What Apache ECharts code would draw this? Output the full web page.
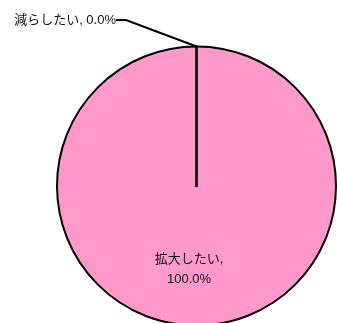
<!DOCTYPE html>
<html>
<head>
<meta charset="utf-8">
<script src="https://cdn.jsdelivr.net/npm/echarts@6/dist/echarts.min.js"></script>
<style>
  html, body { margin: 0; padding: 0; background: #fff; }
  #main { width: 337px; height: 323px; }
</style>
</head>
<body>
<div id="main"></div>
<script>
  // 回答の区分と割合（0%の区分は最後に置いて境界線が上に描かれるようにする）
  var categories = ['拡大したい', '減らしたい'];
  var values = [100.0, 0.0];
  var colors = ['#ff99cc', '#ff99cc'];

  var pieData = categories.map(function (name, i) {
    return {
      name: name,
      value: values[i],
      itemStyle: { color: colors[i], borderWidth: values[i] === 0 ? 2.6 : 2 }
    };
  });

  var chart = echarts.init(document.getElementById('main'));
  chart.setOption({
    animation: false,
    series: [{
      type: 'pie',
      center: [196.5, 186],
      radius: [0, 139.5],
      startAngle: 90,
      clockwise: true,
      avoidLabelOverlap: false,
      itemStyle: {
        borderColor: '#000',
        borderWidth: 2
      },
      label: {
        fontFamily: '"Liberation Sans", "Noto Sans CJK JP", sans-serif',
        fontSize: 13,
        color: '#111',
        lineHeight: 20,
        formatter: function (p) {
          return p.value === 0
            ? p.name + ', ' + p.value.toFixed(1) + '%'
            : p.name + ',\n' + p.value.toFixed(1) + '%';
        }
      },
      labelLine: {
        show: true,
        length: 20,
        length2: 10,
        lineStyle: { color: '#000', width: 2 }
      },
      labelLayout: function (params) {
        if (params.dataIndex === 1) {
          return { x: 116, y: 20, align: 'right', verticalAlign: 'middle' };
        }
        return { x: 189, y: 269, align: 'center', verticalAlign: 'middle' };
      },
      data: pieData
    }]
  });
</script>
</body>
</html>
